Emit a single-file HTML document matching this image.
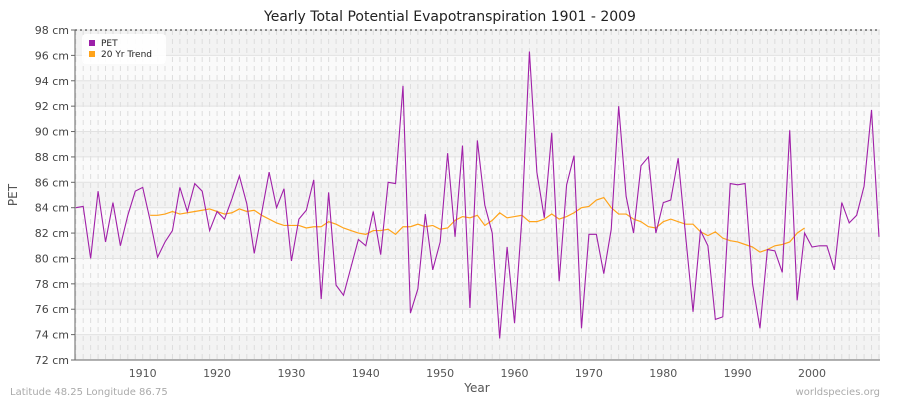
<!DOCTYPE html>
<html><head><meta charset="utf-8"><style>
body{margin:0;background:#fff;font-family:"Liberation Sans","DejaVu Sans",sans-serif}
svg text{font-family:"DejaVu Sans","Liberation Sans",sans-serif}
</style></head><body>
<svg id="chart" width="900" height="400" viewBox="0 0 900 400" xmlns="http://www.w3.org/2000/svg">
<text x="450" y="21" text-anchor="middle" font-size="14" fill="#222">Yearly Total Potential Evapotranspiration 1901 - 2009</text>
<g id="bg"></g><g id="grid"></g><g id="axes"></g><g id="series"></g>
<text x="17" y="195" font-size="12" fill="#555" text-anchor="middle" transform="rotate(-90 17 195)">PET</text>
<text x="477" y="392" font-size="12" fill="#555" text-anchor="middle">Year</text>
<text x="10" y="395" font-size="10" fill="#aaa">Latitude 48.25 Longitude 86.75</text>
<text x="880" y="395" font-size="10" fill="#aaa" text-anchor="end">worldspecies.org</text>
<g>
<rect x="82" y="34" width="84" height="30" rx="4" fill="#fff" opacity="0.9"/>
<rect x="89" y="40" width="6" height="6" fill="#9b1fa8"/>
<text x="101" y="46" font-size="9" fill="#222">PET</text>
<rect x="89" y="51" width="6" height="6" fill="#ffa31a"/>
<text x="101" y="57" font-size="9" fill="#222">20 Yr Trend</text>
</g>
</svg>
<script>
const startYear = 1901;
const petValues = [84.0,84.1,80.0,85.3,81.3,84.4,81.0,83.4,85.3,85.6,
83.0,80.1,81.3,82.2,85.6,83.7,85.9,85.3,82.2,83.7,
83.1,84.7,86.5,84.3,80.4,83.6,86.8,84.0,85.5,79.8,
83.1,83.8,86.2,76.8,85.2,77.9,77.1,79.3,81.5,81.0,
83.7,80.3,86.0,85.9,93.6,75.7,77.6,83.5,79.1,81.3,
88.3,81.7,88.9,76.1,89.3,84.2,82.0,73.7,80.9,74.9,
83.3,96.3,86.8,83.2,89.9,78.2,85.8,88.1,74.5,81.9,
81.9,78.8,82.3,92.0,84.9,82.0,87.3,88.0,82.0,84.4,
84.6,87.9,81.8,75.8,82.2,81.0,75.2,75.4,85.9,85.8,
85.9,78.0,74.5,80.7,80.6,78.9,90.1,76.7,82.0,80.9,
81.0,81.0,79.1,84.4,82.8,83.4,85.7,91.7,81.7];
const trendStart = 1911;
const trendValues = [83.4,83.4,83.5,83.7,83.5,83.6,83.7,83.8,83.9,83.7,
83.5,83.6,83.9,83.7,83.8,83.4,83.1,82.8,82.6,82.6,
82.6,82.4,82.5,82.5,82.9,82.7,82.4,82.2,82.0,81.9,
82.2,82.2,82.3,81.9,82.5,82.5,82.7,82.5,82.6,82.3,
82.4,83.0,83.3,83.2,83.4,82.6,83.0,83.6,83.2,83.3,
83.4,82.9,82.9,83.1,83.5,83.1,83.3,83.6,84.0,84.1,
84.6,84.8,84.0,83.5,83.5,83.1,82.9,82.5,82.4,82.9,
83.1,82.9,82.7,82.7,82.1,81.8,82.1,81.6,81.4,81.3,
81.1,80.9,80.5,80.7,81.0,81.1,81.3,82.0,82.4];
const yTicks = [72,74,76,78,80,82,84,86,88,90,92,94,96,98];
const xTicks = [1910,1920,1930,1940,1950,1960,1970,1980,1990,2000];

const L=75,R=880,T=30,B=360;
const x = yr => 142.7 + (yr-1910)*7.437;
const y = v => T + (98-v)*(B-T)/26;
const NS='http://www.w3.org/2000/svg';
function mk(tag, attrs, parent){const e=document.createElementNS(NS,tag);for(const k in attrs)e.setAttribute(k,attrs[k]);document.getElementById(parent).appendChild(e);return e;}

for(let i=0;i<yTicks.length-1;i++){
  const r=mk('rect',{x:L,y:y(yTicks[i+1]),width:R-L,height:y(yTicks[i])-y(yTicks[i+1]),fill:i%2===0?'#f3f3f3':'#fafafa'},'bg');
  
  
}
for(let yr=1901;yr<=2009;yr++){
  const l=mk('line',{x1:x(yr),x2:x(yr),y1:T,y2:B,stroke:'#ddd','stroke-width':1,'stroke-dasharray':'5,4'},'grid');
  
  
}
yTicks.forEach(v=>{
  const l=mk('line',{x1:L,x2:R,y1:y(v),y2:y(v),stroke:'#e2e2e2','stroke-width':1},'grid');
  
  
  const t=mk('text',{x:L-6,y:y(v)+4,'font-size':11,fill:'#444','text-anchor':'end'},'axes');
  t.textContent=v+' cm';
  
  
  const tk=mk('line',{x1:L-4,x2:L,y1:y(v),y2:y(v),stroke:'#666'},'axes');
  
  
});
xTicks.forEach(yr=>{
  const t=mk('text',{x:x(yr),y:B+17,'font-size':11,fill:'#555','text-anchor':'middle'},'axes');
  t.textContent=yr;
  
  
});
const tl=mk('line',{x1:L,x2:R,y1:T,y2:T,stroke:'#222','stroke-dasharray':'2,3'},'axes');


const ya=mk('line',{x1:L,x2:L,y1:T,y2:B,stroke:'#666'},'axes');


const xa=mk('line',{x1:L,x2:R,y1:B,y2:B,stroke:'#666'},'axes');



const tp=mk('polyline',{points:trendValues.map((v,i)=>x(trendStart+i)+','+y(v)).join(' '),fill:'none',stroke:'#ffa31a','stroke-width':1.2},'series');


const pp=mk('polyline',{points:petValues.map((v,i)=>x(startYear+i)+','+y(v)).join(' '),fill:'none',stroke:'#a020a8','stroke-width':1.1},'series');


</script>
</body></html>
